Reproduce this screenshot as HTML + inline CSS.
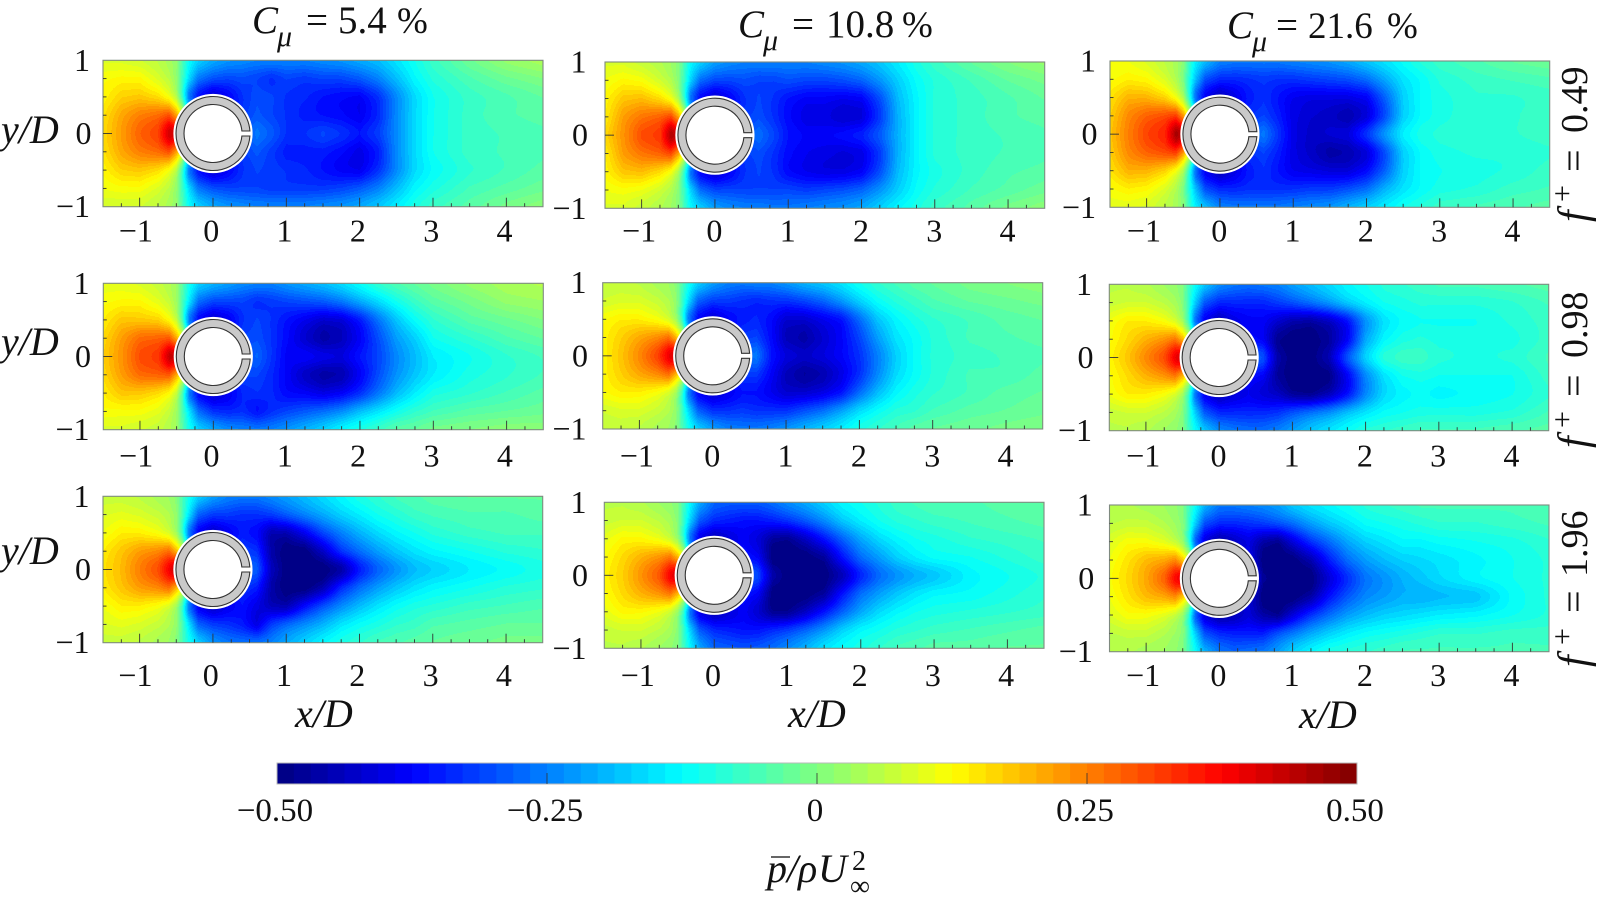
<!DOCTYPE html>
<html lang="en">
<head>
<meta charset="utf-8">
<title>Mean pressure fields</title>
<style>
html,body{margin:0;padding:0;background:#fff;}
svg{display:block;}
text{font-family:"Liberation Serif",serif;fill:#111;}
</style>
</head>
<body>
<svg id="figure" xmlns="http://www.w3.org/2000/svg" width="1599" height="907" viewBox="0 0 1599 907">
<rect width="1599" height="907" fill="#fff"/>
<g id="panels"></g>
<g id="colorbar"></g>

<g font-size="39"><text x="252" y="33" font-style="italic">C</text><text x="277" y="46" font-size="30" font-style="italic">μ</text><text x="306" y="33">=</text><text x="338" y="33">5.4</text><text x="397" y="33" font-size="37">%</text></g>
<g font-size="39"><text x="738" y="37" font-style="italic">C</text><text x="763" y="50" font-size="30" font-style="italic">μ</text><text x="792" y="37">=</text><text x="826" y="37">10.8</text><text x="902" y="37" font-size="37">%</text></g>
<g font-size="39"><text x="1227" y="38" font-style="italic">C</text><text x="1252" y="51" font-size="30" font-style="italic">μ</text><text x="1276" y="38">=</text><text x="1308" y="38" font-size="37">21.6</text><text x="1387" y="38" font-size="37">%</text></g>

<text x="1" y="143" font-size="40" font-style="italic">y/D</text>
<text x="1" y="355" font-size="40" font-style="italic">y/D</text>
<text x="1" y="564" font-size="40" font-style="italic">y/D</text>

<text x="295" y="727" font-size="40" font-style="italic">x/D</text>
<text x="788" y="727" font-size="40" font-style="italic">x/D</text>
<text x="1299" y="728" font-size="40" font-style="italic">x/D</text>

<g transform="translate(1587 222) rotate(-90)" font-size="38"><text x="0" y="0" font-size="42" font-style="italic">f</text><text x="20" y="-15" font-size="30">+</text><text x="50" y="0" font-size="40">=</text><text x="89" y="0">0.49</text></g>
<g transform="translate(1587 448) rotate(-90)" font-size="38"><text x="0" y="0" font-size="42" font-style="italic">f</text><text x="20" y="-15" font-size="30">+</text><text x="51" y="0" font-size="40">=</text><text x="90" y="0">0.98</text></g>
<g transform="translate(1587 667) rotate(-90)" font-size="38"><text x="0" y="0" font-size="42" font-style="italic">f</text><text x="22" y="-15" font-size="30">+</text><text x="54" y="0" font-size="40">=</text><text x="90" y="0">1.96</text></g>

<g font-size="40">
<line x1="771" y1="857" x2="790" y2="857" stroke="#333" stroke-width="1.6"/>
<text x="767" y="882" font-style="italic">p</text><text x="787" y="882" font-style="italic">/</text><text x="798" y="882" font-style="italic">ρ</text><text x="818" y="882" font-style="italic">U</text><text x="852" y="870" font-size="28">2</text><text x="850" y="895" font-size="28">∞</text>
</g>
</svg>
<script>
// Field samples are mean pressure coefficient x 100.
const xStations = [-1.5,-1.25,-1,-0.75,-0.6,-0.5,-0.42,-0.33,-0.2,0,0.2,0.4,0.6,0.8,1,1.25,1.5,1.75,2,2.25,2.5,2.75,3,3.5,4,4.5];
const yStations = [1,0.75,0.5,0.25,0,-0.25,-0.5,-0.75,-1];
const xTickValues = [-1,0,1,2,3,4];
const yTickValues = [-1,0,1];
const colorbarTicks = [-0.5,-0.25,0,0.25,0.5];
const colorbarLabels = ["−0.50","−0.25","0","0.25","0.50"];

const fieldC054F049 = [
[9,9,8,6,4,2,-5,-12,-17,-21,-23,-24,-25,-25,-25,-25,-24,-23,-21,-19,-15,-11,-7,-2,2,4],
[12,13,13,9,6,2,-6,-16,-26,-30,-31,-30,-31,-33,-31,-32,-31,-31,-29,-25,-19,-13,-9,-5,-2,0],
[13,17,18,16,12,6,-6,-25,-36,-42,-38,-33,-30,-31,-33,-34,-36,-37,-38,-33,-24,-16,-11,-7,-5,-3],
[15,21,25,27,30,22,10,-10,-30,-40,-36,-32,-29,-31,-33,-35,-36,-37,-39,-34,-24,-16,-11,-7,-5,-4],
[16,22,28,31,42,41,20,0,-20,-30,-30,-30,-26,-29,-33,-33,-31,-33,-36,-32,-24,-16,-11,-7,-6,-5],
[15,21,25,27,30,22,10,-10,-30,-40,-36,-32,-29,-32,-35,-35,-35,-37,-40,-35,-24,-16,-11,-7,-6,-5],
[13,17,18,16,12,6,-6,-25,-36,-42,-38,-33,-31,-32,-33,-34,-36,-38,-39,-33,-24,-16,-12,-8,-6,-4],
[11,12,12,9,6,2,-6,-16,-26,-30,-31,-31,-31,-32,-32,-32,-32,-31,-29,-25,-19,-13,-10,-6,-4,-2],
[8,8,8,6,4,2,-5,-12,-17,-21,-23,-24,-25,-25,-25,-25,-24,-23,-21,-18,-14,-10,-7,-4,-1,1]];

const fieldC108F049 = [
[9,9,7,5,3,1,-6,-13,-17,-22,-24,-25,-25,-25,-25,-25,-24,-23,-21,-18,-14,-10,-7,-3,0,2],
[11,13,12,8,5,1,-7,-17,-27,-31,-31,-30,-31,-31,-30,-31,-31,-30,-28,-23,-17,-12,-9,-6,-3,-1],
[13,18,19,16,12,5,-7,-26,-37,-42,-38,-33,-31,-33,-36,-38,-38,-39,-38,-30,-19,-13,-9,-7,-5,-3],
[14,22,26,28,31,22,10,-10,-30,-40,-36,-32,-30,-33,-37,-40,-40,-42,-41,-32,-20,-13,-9,-7,-5,-4],
[16,23,30,32,45,42,20,0,-20,-30,-30,-30,-27,-31,-36,-38,-38,-37,-35,-29,-20,-13,-9,-7,-6,-5],
[14,22,26,28,31,22,10,-10,-30,-40,-36,-32,-30,-33,-37,-39,-40,-41,-40,-32,-20,-13,-9,-7,-6,-5],
[13,18,19,16,12,5,-7,-26,-37,-42,-38,-33,-31,-33,-37,-39,-40,-40,-38,-30,-19,-13,-10,-7,-5,-4],
[11,12,11,8,5,1,-7,-17,-27,-31,-31,-31,-31,-31,-31,-32,-31,-30,-28,-23,-17,-12,-9,-6,-4,-2],
[9,9,7,5,3,1,-6,-13,-17,-22,-24,-25,-25,-26,-26,-25,-24,-23,-21,-17,-13,-10,-7,-4,-1,1]];

const fieldC216F049 = [
[11,11,9,6,4,1,-7,-14,-19,-25,-26,-26,-26,-26,-25,-24,-23,-21,-18,-15,-12,-9,-7,-5,-3,-2],
[12,14,13,9,5,0,-9,-19,-30,-34,-34,-33,-32,-33,-33,-32,-31,-30,-27,-21,-15,-12,-9,-7,-6,-5],
[15,20,20,17,12,5,-8,-27,-38,-44,-40,-35,-33,-36,-39,-40,-40,-40,-38,-28,-17,-12,-10,-8,-8,-7],
[17,24,28,30,32,23,10,-10,-30,-40,-38,-33,-31,-35,-40,-42,-43,-45,-41,-30,-17,-12,-10,-8,-8,-7],
[18,25,31,34,46,44,20,0,-20,-30,-30,-29,-26,-33,-40,-43,-42,-41,-33,-23,-14,-10,-9,-8,-8,-7],
[17,24,28,30,32,23,10,-10,-30,-40,-38,-33,-31,-35,-40,-43,-46,-45,-41,-30,-17,-12,-10,-9,-9,-8],
[15,20,20,17,12,5,-8,-27,-38,-44,-40,-35,-33,-36,-39,-40,-41,-41,-37,-28,-17,-12,-11,-10,-9,-7],
[12,14,13,9,5,0,-9,-19,-30,-34,-34,-33,-33,-33,-33,-32,-32,-30,-27,-20,-15,-12,-10,-9,-7,-6],
[10,10,9,6,4,1,-7,-14,-19,-25,-26,-26,-26,-26,-25,-24,-23,-20,-17,-14,-11,-9,-7,-6,-5,-4]];

const fieldC054F098 = [
[10,10,9,7,5,3,-4,-11,-17,-20,-22,-24,-25,-25,-23,-21,-19,-16,-12,-8,-5,-3,-1,2,4,5],
[12,13,13,10,7,3,-5,-15,-27,-31,-31,-31,-33,-32,-31,-30,-29,-26,-21,-16,-11,-7,-4,-1,2,3],
[14,18,18,17,13,7,-5,-25,-37,-42,-39,-33,-31,-33,-36,-39,-42,-41,-35,-26,-18,-12,-8,-4,-2,0],
[16,22,27,28,29,21,10,-10,-30,-40,-36,-31,-30,-33,-37,-42,-46,-44,-38,-30,-22,-17,-11,-8,-5,-3],
[17,23,30,32,43,42,20,0,-20,-30,-30,-29,-28,-33,-38,-38,-40,-41,-36,-31,-24,-19,-14,-11,-8,-6],
[16,22,27,28,29,21,10,-10,-30,-40,-36,-31,-31,-34,-38,-43,-46,-45,-38,-30,-23,-18,-14,-10,-8,-6],
[14,18,18,16,13,7,-5,-25,-37,-42,-39,-34,-33,-34,-37,-38,-40,-38,-33,-26,-19,-14,-10,-8,-6,-4],
[12,12,12,10,7,3,-5,-15,-27,-33,-34,-33,-36,-33,-31,-29,-27,-24,-19,-15,-11,-8,-6,-4,-3,-2],
[9,9,8,7,5,3,-4,-11,-17,-21,-24,-25,-26,-25,-23,-20,-17,-13,-10,-7,-4,-3,-1,0,1,1]];

const fieldC108F098 = [
[7,7,6,4,3,1,-5,-11,-17,-22,-25,-26,-25,-25,-23,-20,-18,-15,-11,-8,-6,-4,-3,-1,0,1],
[8,9,9,7,5,2,-6,-16,-28,-32,-32,-33,-34,-33,-33,-31,-28,-23,-17,-12,-9,-7,-5,-3,-2,-1],
[12,14,14,12,9,4,-6,-25,-37,-42,-38,-35,-34,-37,-42,-42,-39,-36,-27,-18,-13,-10,-8,-6,-4,-3],
[13,17,21,24,27,20,10,-10,-30,-40,-36,-32,-31,-37,-44,-46,-42,-38,-31,-22,-15,-12,-9,-6,-5,-4],
[13,18,24,31,39,42,20,0,-20,-30,-30,-28,-26,-36,-41,-43,-41,-38,-33,-25,-17,-12,-9,-7,-6,-5],
[13,17,21,24,27,20,10,-10,-30,-40,-36,-32,-32,-38,-44,-47,-45,-40,-33,-24,-16,-12,-9,-6,-6,-4],
[12,14,14,12,9,4,-6,-25,-37,-42,-39,-36,-36,-39,-42,-42,-40,-36,-27,-19,-13,-10,-8,-6,-4,-3],
[8,9,9,7,5,2,-6,-16,-28,-33,-33,-32,-33,-33,-33,-30,-27,-22,-16,-12,-9,-8,-6,-4,-3,-2],
[7,7,6,4,3,1,-5,-11,-17,-22,-25,-26,-26,-25,-23,-20,-17,-14,-10,-8,-6,-4,-3,-2,-1,0]];

const fieldC216F098 = [
[6,6,5,3,2,0,-6,-12,-18,-24,-26,-27,-26,-25,-22,-19,-16,-13,-11,-9,-8,-7,-6,-6,-5,-4],
[7,8,8,6,4,1,-7,-17,-29,-34,-34,-34,-34,-32,-30,-27,-23,-18,-14,-11,-10,-9,-9,-9,-8,-6],
[11,14,14,12,9,4,-6,-25,-38,-44,-40,-38,-38,-42,-45,-46,-43,-36,-23,-15,-12,-11,-11,-11,-9,-7],
[12,16,20,23,26,20,10,-10,-30,-40,-38,-36,-38,-48,-50,-50,-47,-38,-21,-13,-10,-9,-10,-10,-10,-7],
[13,18,24,30,39,42,20,0,-20,-30,-30,-27,-30,-46,-50,-50,-45,-30,-17,-9,-7,-7,-9,-10,-9,-6],
[12,16,20,23,26,20,10,-10,-30,-40,-38,-36,-38,-47,-50,-50,-49,-38,-24,-15,-11,-10,-11,-11,-11,-7],
[11,14,14,12,9,4,-6,-25,-38,-44,-41,-39,-41,-43,-47,-48,-44,-36,-24,-16,-13,-12,-13,-12,-11,-8],
[7,8,8,6,4,1,-7,-17,-29,-34,-34,-34,-34,-33,-30,-27,-24,-19,-15,-12,-11,-10,-10,-10,-9,-6],
[6,6,5,3,2,0,-6,-12,-18,-24,-26,-27,-27,-25,-22,-18,-15,-12,-9,-8,-7,-6,-6,-6,-5,-4]];

const fieldC054F196 = [
[7,7,6,4,3,1,-5,-11,-17,-22,-25,-26,-26,-24,-22,-19,-16,-13,-10,-8,-6,-5,-4,-3,-3,-3],
[9,10,9,7,5,2,-5,-15,-28,-32,-32,-33,-33,-32,-29,-25,-21,-17,-14,-11,-9,-7,-6,-5,-5,-4],
[11,14,14,12,9,4,-6,-25,-38,-43,-39,-35,-37,-45,-45,-39,-31,-25,-20,-16,-13,-11,-9,-7,-6,-6],
[14,18,22,24,27,20,10,-10,-30,-40,-36,-31,-33,-46,-50,-50,-43,-33,-27,-22,-18,-15,-13,-11,-9,-8],
[15,19,25,30,38,44,20,0,-20,-30,-30,-27,-29,-44,-50,-50,-50,-46,-35,-28,-23,-19,-17,-14,-12,-10],
[14,18,22,24,27,20,10,-10,-30,-40,-36,-32,-35,-46,-50,-50,-45,-34,-27,-22,-18,-15,-13,-11,-9,-8],
[11,14,14,12,9,4,-6,-25,-38,-43,-39,-36,-40,-44,-45,-37,-30,-24,-19,-15,-12,-10,-9,-7,-6,-5],
[9,10,9,7,5,2,-5,-15,-28,-32,-33,-35,-40,-32,-28,-24,-20,-15,-12,-10,-8,-7,-5,-4,-3,-3],
[7,7,6,4,3,1,-5,-11,-17,-23,-26,-27,-27,-25,-21,-17,-13,-10,-8,-6,-5,-4,-3,-2,-1,-1]];

const fieldC108F196 = [
[6,6,5,3,2,0,-6,-13,-21,-28,-29,-29,-29,-27,-24,-21,-17,-13,-11,-9,-7,-6,-5,-5,-4,-3],
[7,8,8,6,4,1,-7,-17,-29,-34,-35,-36,-36,-35,-33,-29,-24,-18,-14,-11,-9,-8,-7,-6,-5,-4],
[10,13,13,11,8,3,-7,-26,-39,-44,-41,-38,-41,-47,-48,-43,-36,-28,-21,-16,-13,-11,-10,-8,-7,-6],
[12,16,20,23,26,20,10,-10,-30,-40,-37,-35,-38,-50,-50,-50,-47,-36,-27,-22,-17,-14,-12,-11,-9,-7],
[13,17,23,29,38,42,20,0,-20,-30,-30,-27,-31,-46,-50,-50,-50,-44,-34,-27,-23,-20,-18,-13,-11,-9],
[12,16,20,23,26,20,10,-10,-30,-40,-37,-35,-38,-50,-50,-50,-47,-36,-27,-22,-18,-15,-13,-12,-10,-8],
[10,13,13,11,8,3,-7,-26,-39,-44,-41,-38,-42,-48,-48,-43,-36,-28,-21,-16,-13,-11,-10,-9,-8,-7],
[7,8,8,6,4,1,-7,-17,-29,-34,-35,-36,-36,-34,-32,-28,-23,-17,-13,-11,-9,-8,-7,-6,-5,-4],
[6,6,5,3,2,0,-6,-13,-21,-28,-29,-30,-29,-27,-24,-20,-15,-12,-10,-8,-6,-5,-4,-4,-3,-3]];

const fieldC216F196 = [
[5,5,4,3,2,0,-6,-12,-20,-26,-26,-25,-24,-22,-18,-15,-13,-11,-9,-8,-7,-6,-6,-6,-6,-5],
[6,7,7,5,3,1,-7,-17,-30,-34,-34,-33,-32,-30,-27,-22,-18,-15,-12,-11,-10,-9,-8,-8,-7,-6],
[9,12,12,10,7,3,-7,-27,-40,-46,-43,-40,-46,-48,-41,-33,-27,-21,-17,-15,-13,-13,-12,-11,-10,-8],
[11,15,19,21,24,18,10,-10,-30,-40,-38,-38,-50,-50,-50,-45,-35,-27,-22,-19,-17,-16,-15,-13,-11,-9],
[12,16,21,28,37,40,20,0,-20,-30,-30,-32,-48,-50,-50,-50,-41,-33,-26,-23,-20,-18,-16,-13,-11,-9],
[11,15,19,21,24,18,10,-10,-30,-40,-38,-40,-50,-50,-50,-46,-36,-29,-24,-22,-20,-20,-19,-18,-12,-9],
[9,12,12,10,7,3,-7,-27,-40,-46,-44,-41,-46,-48,-41,-33,-27,-22,-19,-17,-16,-15,-14,-13,-11,-9],
[6,7,7,5,3,1,-7,-17,-30,-34,-35,-35,-35,-30,-26,-21,-17,-14,-12,-11,-10,-9,-8,-8,-7,-7],
[5,5,4,3,2,0,-6,-12,-20,-26,-28,-27,-26,-22,-17,-13,-10,-9,-8,-7,-6,-6,-6,-6,-6,-6]];

// Layout of each subplot on the page (separate from the data).
const layout = [
 {field:fieldC054F049,l:103,  r:543,  t:60.3, b:206.7,labelRight:91.5, tickBase:241.7,shift:-1.8},
 {field:fieldC108F049,l:605,  r:1044.7,t:62,  b:208.3,labelRight:588,  tickBase:241.7,shift:-0.5},
 {field:fieldC216F049,l:1110, r:1549.7,t:61,  b:207.3,labelRight:1097.5,tickBase:241.7,shift:-0.7},
 {field:fieldC054F098,l:103.3,r:543.3,t:283.3,b:429.7,labelRight:91,   tickBase:466.7,shift:-1.8},
 {field:fieldC108F098,l:602.7,r:1042.7,t:282.7,b:429, labelRight:588,  tickBase:466.7,shift:-0.5},
 {field:fieldC216F098,l:1109.3,r:1548.7,t:284.3,b:430.7,labelRight:1093.5,tickBase:466.7,shift:-0.7},
 {field:fieldC054F196,l:103,  r:542.7,t:496.3,b:642.7,labelRight:91,   tickBase:686,shift:-2.2},
 {field:fieldC108F196,l:604.3,r:1044, t:502.3,b:648.3,labelRight:588,  tickBase:686,shift:-1.2},
 {field:fieldC216F196,l:1109.5,r:1549,t:505,  b:651.7,labelRight:1094.3,tickBase:686,shift:-1}
];

const SVGNS = 'http://www.w3.org/2000/svg';
const BANDS = 64;
const panelsRoot = document.getElementById('panels');
const colorbarRoot = document.getElementById('colorbar');

function make(tag, parent, attrs){
  const el = document.createElementNS(SVGNS, tag);
  for (const k in attrs) el.setAttribute(k, attrs[k]);
  parent.appendChild(el);
  return el;
}
function clamp01(v){ return Math.max(0, Math.min(1, v)); }
function jet(t){
  const r = clamp01(1.5 - Math.abs(4*t - 3));
  const g = clamp01(1.5 - Math.abs(4*t - 2));
  const b = clamp01(1.5 - Math.abs(4*t - 1));
  return 'rgb(' + Math.round(r*255) + ',' + Math.round(g*255) + ',' + Math.round(b*255) + ')';
}
function bandOf(value){
  return Math.max(0, Math.min(BANDS - 1, Math.floor((value + 0.5) * BANDS)));
}
function xScale(p, x){ return p.l + (x + 1.5) / 6 * (p.r - p.l); }
function yScale(p, y){ return p.t + (1 - y) / 2 * (p.b - p.t); }
function xInvert(p, px){ return (px - p.l) / (p.r - p.l) * 6 - 1.5; }
function yInvert(p, py){ return 1 - (py - p.t) / (p.b - p.t) * 2; }
function catmull(a, b, c, d, t){
  return 0.5 * (2*b + (c - a)*t + (2*a - 5*b + 4*c - d)*t*t + (3*b - a - 3*c + d)*t*t*t);
}
function sampleColumn(field, col, rowF){
  const n = yStations.length;
  const i = Math.max(0, Math.min(n - 2, Math.floor(rowF)));
  const t = rowF - i;
  const a = field[Math.max(0, i - 1)][col];
  const b = field[i][col];
  const c = field[i + 1][col];
  const d = field[Math.min(n - 1, i + 2)][col];
  return catmull(a, b, c, d, t);
}
function sample(field, x, y){
  let j = 0;
  while (j < xStations.length - 2 && x > xStations[j + 1]) j++;
  const u = Math.max(0, Math.min(1, (x - xStations[j]) / (xStations[j + 1] - xStations[j])));
  const rowF = (1 - y) / 0.25;
  const left = sampleColumn(field, j, rowF);
  const right = sampleColumn(field, j + 1, rowF);
  return (left * (1 - u) + right * u) / 100;
}

function drawField(p, g){
  const paths = [];
  for (let i = 0; i < BANDS; i++) paths.push([]);
  const x0 = Math.floor(p.l), y0 = Math.floor(p.t);
  const w = Math.ceil(p.r) - x0, h = Math.ceil(p.b) - y0;
  for (let py = 0; py < h; py++){
    const y = yInvert(p, y0 + py + 0.5);
    let start = 0, cur = -1;
    for (let px = 0; px <= w; px++){
      const band = px < w ? bandOf(sample(p.field, xInvert(p, x0 + px + 0.5), y)) : -2;
      if (band !== cur){
        if (cur >= 0) paths[cur].push('M' + (x0 + start) + ' ' + (y0 + py) + 'h' + (px - start) + 'v1h' + (start - px) + 'z');
        start = px; cur = band;
      }
    }
  }
  const clipId = 'clip' + Math.round(p.l) + '-' + Math.round(p.t);
  const clip = make('clipPath', g, {id: clipId});
  make('rect', clip, {x: p.l, y: p.t, width: p.r - p.l, height: p.b - p.t});
  const bands = make('g', g, {'clip-path': 'url(#' + clipId + ')', 'shape-rendering': 'crispEdges'});
  
  
  paths.forEach(function(list, i){
    if (!list.length) return;
    const el = make('path', bands, {d: list.join(''), fill: jet((i + 0.5) / BANDS)});
    
    
  });
}

function drawCylinder(p, g){
  const cx = xScale(p, 0), cy = yScale(p, 0);
  const R = 37, r = 29, h = 2.5;
  const xo = Math.sqrt(R*R - h*h), xi = Math.sqrt(r*r - h*h);
  const halo = make('circle', g, {cx: cx, cy: cy, r: 39.6, fill: '#fff'});
  
  
  const ring = make('path', g, {
    d: 'M' + (cx + xo) + ' ' + (cy - h) + 'A' + R + ' ' + R + ' 0 1 0 ' + (cx + xo) + ' ' + (cy + h) +
       'L' + (cx + xi) + ' ' + (cy + h) + 'A' + r + ' ' + r + ' 0 1 1 ' + (cx + xi) + ' ' + (cy - h) + 'Z',
    fill: '#c9c9c9', stroke: '#333', 'stroke-width': 1.1
  });
  
  
}

function drawAxes(p, g){
  const frame = make('rect', g, {x: p.l, y: p.t, width: p.r - p.l, height: p.b - p.t, fill: 'none', stroke: '#7f8a80', 'stroke-width': 1.1});
  
  
  for (let v = -1.25; v <= 4.25; v += 0.25){
    const x = xScale(p, v);
    const major = Number.isInteger(v);
    const tick = make('line', g, {x1: x, x2: x, y1: p.b, y2: p.b - (major ? 9 : 3.5), stroke: '#333', 'stroke-width': 0.9});
    
    
  }
  for (let v = -0.75; v <= 0.75; v += 0.25){
    const y = yScale(p, v);
    const major = v === 0;
    const tick = make('line', g, {x1: p.l, x2: p.l + (major ? 9 : 3.5), y1: y, y2: y, stroke: '#333', 'stroke-width': 0.9});
    
    
  }
  xTickValues.forEach(function(v){
    const label = make('text', g, {x: xScale(p, v) + p.shift + (v < 0 ? -2 : 0), y: p.tickBase, 'font-size': 32, 'text-anchor': 'middle'});
    
    
    label.textContent = (v < 0 ? '−' + (-v) : String(v));
  });
  yTickValues.forEach(function(v){
    const label = make('text', g, {x: p.labelRight - (v === 0 ? 0 : 1.5), y: yScale(p, v) + 10.5, 'font-size': 32, 'text-anchor': 'end'});
    
    
    label.textContent = (v < 0 ? '−' + (-v) : String(v));
  });
}

layout.forEach(function(p){
  const g = make('g', panelsRoot, {});
  
  
  drawField(p, g);
  drawCylinder(p, g);
  drawAxes(p, g);
});

// Colour bar
const bar = {l: 277, r: 1357, t: 763, b: 784};
function barScale(v){ return bar.l + (v + 0.5) * (bar.r - bar.l); }
for (let i = 0; i < BANDS; i++){
  const v0 = i / BANDS - 0.5, v1 = (i + 1) / BANDS - 0.5;
  const swatch = make('rect', colorbarRoot, {x: barScale(v0), y: bar.t, width: barScale(v1) - barScale(v0) + 0.5, height: bar.b - bar.t, fill: jet((i + 0.5) / BANDS)});
  
  
}
const barFrame = make('rect', colorbarRoot, {x: bar.l, y: bar.t, width: bar.r - bar.l, height: bar.b - bar.t, fill: 'none', stroke: '#b9b9b9', 'stroke-width': 1});


colorbarTicks.forEach(function(v, i){
  if (i > 0 && i < colorbarTicks.length - 1){
    const tick = make('line', colorbarRoot, {x1: barScale(v), x2: barScale(v), y1: bar.b, y2: bar.b - 11, stroke: '#333', 'stroke-width': 0.8});
    
    
  }
  const label = make('text', colorbarRoot, {x: barScale(v) - 2, y: 821, 'font-size': 33, 'text-anchor': 'middle'});
  
  
  label.textContent = colorbarLabels[i];
});
</script>
</body>
</html>
